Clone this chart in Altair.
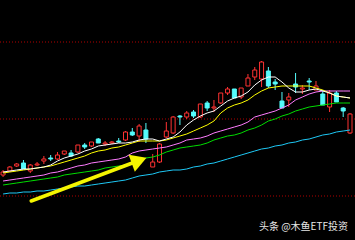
import altair as alt
import pandas as pd

# ---- data ----
idx = list(range(52))
opens = [65,69,74,77,69,75,79,82,81,86,87,88,95,94,101,96,97,99,100,108,104,110,73,78,103,107,124,123,128,123,137,132,137,147,151,143,154,163,161,169,158,139,140,156,151,159,150,146,133,147,132,107]
closes = [68,73,76,71,75,76,81,81,85,89,84,95,93,98,97,97,98,98,108,105,114,101,78,96,109,123,123,127,124,136,132,133,147,151,142,152,162,170,178,154,156,132,143,153,152,158,154,135,147,138,129,126]
highs = [70,74,77,80,76,78,84,85,88,89,90,95,97,98,102,99,99,102,109,112,116,117,86,97,118,124,125,129,130,136,139,140,147,153,151,152,166,173,179,173,161,148,147,167,155,162,159,150,150,149,133,127]
lows = [63,68,73,71,67,74,76,79,80,85,83,87,91,93,97,94,96,97,99,104,98,97,73,77,102,106,115,121,122,122,129,128,136,145,142,141,154,160,153,152,150,132,133,147,146,150,150,135,128,138,123,106]

ma5 = [68,69,70,71,71,72,73,75,79,82,84,86,89,91,94,95,96,97,97,98,100,101,101,99,101,103,108,115,120,124,127,129,134,139,142,144,148,155,160,163,163,158,152,148,148,150,151,149,147,144,143,142]
ma10 = [67,68,69,70,71,72,73,74,76,78,80,82,84,87,89,90,92,93,95,97,99,99,99,99,100,102,104,106,109,112,115,119,127,132,135,137,140,145,149,152,153,154,154,154,154,154,152,150,147,144,143,142]
ma20 = [59,60,61,62,63,64,65,67,68,70,72,74,75,77,78,79,80,81,83,87,89,90,91,92,93,95,97,100,101,102,104,107,109,111,113,115,118,123,125,127,129,132,135,140,143,146,148,149,149,149,149,149]
ma30 = [55,56,57,58,59,60,61,62,63,65,66,67,68,69,70,72,73,74,75,77,79,82,83,85,88,90,92,93,94,95,97,100,102,104,105,107,110,112,115,119,121,124,126,129,131,133,134,135,136,137,137,137]
ma60 = [46,47,47,48,48,49,49,50,51,52,53,54,54,55,56,57,58,59,60,62,64,65,66,68,69,70,70,71,73,74,76,77,79,81,83,85,87,89,91,92,94,95,97,98,100,101,103,105,106,108,109,110]

grid_levels = [198, 121, 44]
arrow_x = [4.14, 19.0]
arrow_y = [39, 77]
arrow_head_x = [20.0]
arrow_head_y = [79.5]
watermark = "头条 @木鱼ETF投资"

# ---- tables ----
candles = pd.DataFrame({"i": idx, "open": opens, "close": closes, "high": highs, "low": lows})
candles["dir"] = ["up" if c >= o else "down" for o, c in zip(opens, closes)]
ma_df = pd.DataFrame({"i": idx, "ma5": ma5, "ma10": ma10, "ma20": ma20, "ma30": ma30, "ma60": ma60})

RED = "#ff3232"
CYAN = "#54fcfc"

xs = alt.Scale(domain=[2 / 7, 51.0], nice=False, zero=False)
ys = alt.Scale(domain=[0, 240], nice=False, zero=False)


def X(f="i"):
    return alt.X(f"{f}:Q", scale=xs, axis=None)


def Y(f):
    return alt.Y(f"{f}:Q", scale=ys, axis=None)


grid = alt.Chart(pd.DataFrame({"lvl": grid_levels})).mark_rule(
    color="#b00000", strokeDash=[1, 2], strokeWidth=1.2
).encode(y=Y("lvl"))

stroke_enc = alt.Stroke("dir:N", scale=alt.Scale(domain=["up", "down"], range=[RED, CYAN]), legend=None)

wicks = alt.Chart(candles).mark_rule(strokeWidth=1).encode(
    x=X(), y=Y("low"), y2="high", stroke=stroke_enc
)

bodies = alt.Chart(candles).mark_bar(size=4, strokeWidth=1, fillOpacity=1).encode(
    x=X(), y=Y("open"), y2="close",
    fill=alt.Fill("dir:N", scale=alt.Scale(domain=["up", "down"], range=["#000000", CYAN]), legend=None),
    stroke=stroke_enc,
)

ma_colors = {"ma60": "#1ec8f5", "ma30": "#00dd00", "ma20": "#ff7cff", "ma10": "#ffff00", "ma5": "#ffffff"}
ma_layers = [
    alt.Chart(ma_df).mark_line(color=c, strokeWidth=1).encode(x=X(), y=Y(k))
    for k, c in ma_colors.items()
]

arrow_df = pd.DataFrame({"ax": arrow_x, "ay": arrow_y})
shaft = alt.Chart(arrow_df).mark_line(color="#f5f500", strokeWidth=3.5, strokeCap="round").encode(
    x=X("ax"), y=Y("ay")
)
head = alt.Chart(pd.DataFrame({"hx": arrow_head_x, "hy": arrow_head_y})).mark_point(
    shape="triangle-right", angle=340, size=330, filled=True, color="#f5f500", opacity=1
).encode(x=X("hx"), y=Y("hy"))

text = alt.Chart(pd.DataFrame({"t": [watermark]})).mark_text(
    align="right", baseline="middle", fontSize=10, font="Noto Sans CJK SC", color="#e6e6e6"
).encode(text="t:N", x=alt.value(348), y=alt.value(227))

chart = alt.layer(grid, wicks, bodies, *ma_layers, shaft, head, text).properties(
    width=355, height=240, padding=0, autosize=alt.AutoSizeParams(type="none"), background="#000000"
).configure_view(stroke=None)

chart.save("out.html", embed_options={"renderer": "svg", "actions": False})
